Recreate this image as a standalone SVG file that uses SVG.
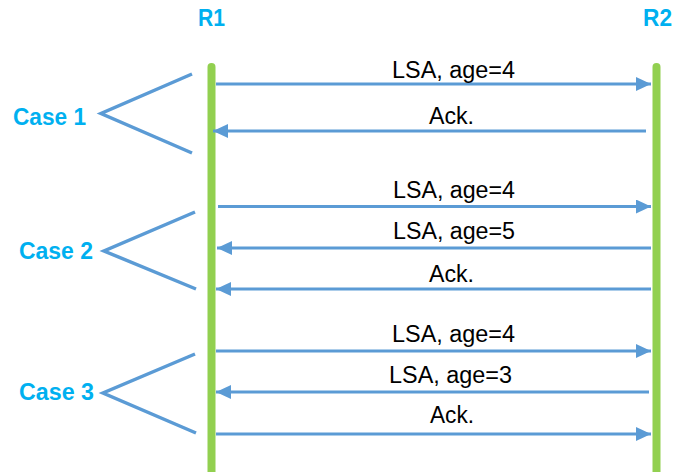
<svg xmlns="http://www.w3.org/2000/svg" width="693" height="472" viewBox="0 0 693 472">
<style>
.life{stroke:#92D050;stroke-width:8;stroke-linecap:round;fill:none}
.msg{stroke:#5B9BD5;stroke-width:3;fill:none}
.brk{stroke:#5B9BD5;stroke-width:3.5;fill:none;stroke-linejoin:miter}
.hd{font-family:"Liberation Sans",Arial,sans-serif;font-weight:bold;font-size:23.5px;fill:#00B0F0}
.lb{font-family:"Liberation Sans",Arial,sans-serif;font-size:23px;fill:#000}
</style>
<defs>
<marker id="ah" markerUnits="userSpaceOnUse" markerWidth="16" markerHeight="16" viewBox="0 0 16 16" refX="15" refY="7" orient="auto">
<path d="M0,0 L15,7 L0,14 z" fill="#5B9BD5"/>
</marker>
</defs>
<rect width="693" height="472" fill="#fff"/>
<g id="R1">
<line class="life" x1="211.5" y1="67" x2="211.5" y2="476"/>
<text class="hd" x="198" y="25.5" textLength="27" lengthAdjust="spacingAndGlyphs">R1</text>
</g>
<g id="R2">
<line class="life" x1="656.5" y1="67" x2="656.5" y2="476"/>
<text class="hd" x="643" y="25.5" textLength="29" lengthAdjust="spacingAndGlyphs">R2</text>
</g>
<g id="case1">
<polyline class="brk" points="192,74 101,113.5 192,153"/>
<text class="hd" x="13" y="125" textLength="73" lengthAdjust="spacingAndGlyphs">Case 1</text>
</g>
<g id="case2">
<polyline class="brk" points="195,212 104,251 196,289"/>
<text class="hd" x="19" y="258.5" textLength="74" lengthAdjust="spacingAndGlyphs">Case 2</text>
</g>
<g id="case3">
<polyline class="brk" points="195,354 103,393 196,433"/>
<text class="hd" x="19" y="399.5" textLength="75" lengthAdjust="spacingAndGlyphs">Case 3</text>
</g>
<g id="connectors">
<line class="msg" x1="216" y1="84" x2="651" y2="84" marker-end="url(#ah)"/>
<line class="msg" x1="646" y1="131" x2="213" y2="131" marker-end="url(#ah)"/>
<line class="msg" x1="218" y1="206.5" x2="651" y2="206.5" marker-end="url(#ah)"/>
<line class="msg" x1="651" y1="248" x2="217" y2="248" marker-end="url(#ah)"/>
<line class="msg" x1="651" y1="289" x2="216" y2="289" marker-end="url(#ah)"/>
<line class="msg" x1="216" y1="351" x2="651" y2="351" marker-end="url(#ah)"/>
<line class="msg" x1="649" y1="392" x2="216" y2="392" marker-end="url(#ah)"/>
<line class="msg" x1="216" y1="434" x2="651" y2="434" marker-end="url(#ah)"/>
</g>
<g id="labels">
<text class="lb" x="392" y="77.5" textLength="123" lengthAdjust="spacingAndGlyphs">LSA, age=4</text>
<text class="lb" x="429" y="124" textLength="45" lengthAdjust="spacingAndGlyphs">Ack.</text>
<text class="lb" x="393" y="198" textLength="122" lengthAdjust="spacingAndGlyphs">LSA, age=4</text>
<text class="lb" x="393" y="239" textLength="122" lengthAdjust="spacingAndGlyphs">LSA, age=5</text>
<text class="lb" x="429" y="282" textLength="45" lengthAdjust="spacingAndGlyphs">Ack.</text>
<text class="lb" x="392" y="342" textLength="123" lengthAdjust="spacingAndGlyphs">LSA, age=4</text>
<text class="lb" x="389" y="383" textLength="123" lengthAdjust="spacingAndGlyphs">LSA, age=3</text>
<text class="lb" x="430" y="423" textLength="44" lengthAdjust="spacingAndGlyphs">Ack.</text>
</g>
</svg>
